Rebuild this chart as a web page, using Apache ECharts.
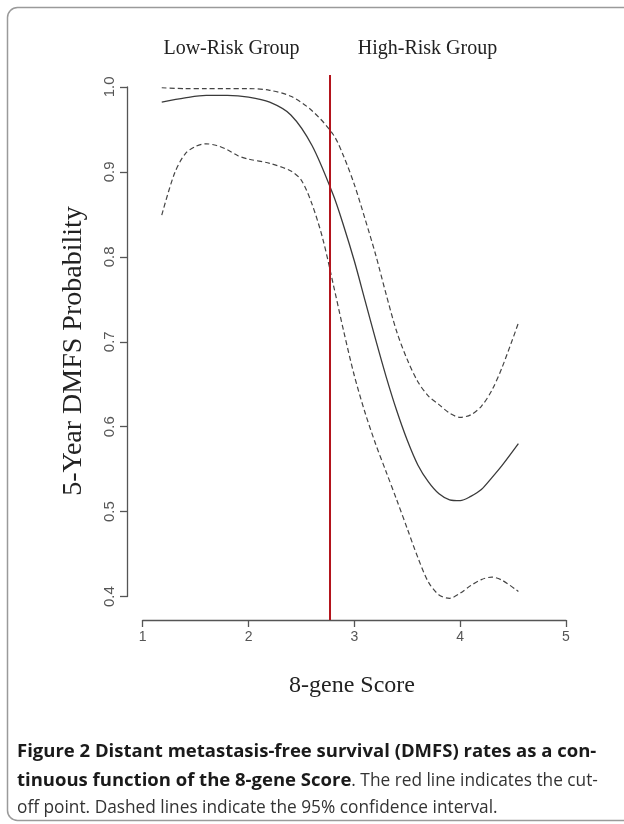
<!DOCTYPE html>
<html>
<head>
<meta charset="utf-8">
<script src="https://cdn.jsdelivr.net/npm/echarts@6/dist/echarts.min.js"></script>
<style>
html,body{margin:0;padding:0;background:#fff;}
#chart{width:624px;height:824px;}
</style>
</head>
<body>
<div id="chart"></div>
<script>
// ---- data ----
var xTicks = [1, 2, 3, 4, 5];
var yTicks = [0.4, 0.5, 0.6, 0.7, 0.8, 0.9, 1.0];

var scoreMid = [1.18, 1.40, 1.60, 1.80, 2.00, 2.20, 2.40, 2.60, 2.80, 2.90, 3.00, 3.10, 3.20, 3.30, 3.40, 3.50, 3.60, 3.70, 3.80, 3.90, 4.00, 4.10, 4.20, 4.30, 4.40, 4.55];
var dmfsMid  = [0.982, 0.987, 0.990, 0.990, 0.988, 0.982, 0.967, 0.931, 0.873, 0.836, 0.795, 0.749, 0.703, 0.659, 0.619, 0.584, 0.555, 0.535, 0.521, 0.514, 0.513, 0.518, 0.526, 0.540, 0.555, 0.580];

var scoreUpper = [1.18, 1.40, 1.60, 1.80, 2.00, 2.20, 2.40, 2.60, 2.80, 2.90, 3.00, 3.10, 3.20, 3.30, 3.40, 3.50, 3.60, 3.70, 3.80, 3.90, 4.00, 4.10, 4.20, 4.30, 4.40, 4.55];
var dmfsUpper  = [0.999, 0.998, 0.998, 0.998, 0.998, 0.996, 0.989, 0.972, 0.944, 0.918, 0.885, 0.845, 0.803, 0.756, 0.712, 0.679, 0.653, 0.636, 0.626, 0.616, 0.611, 0.614, 0.624, 0.643, 0.671, 0.722];

var scoreLower = [1.18, 1.30, 1.40, 1.50, 1.60, 1.70, 1.80, 1.90, 2.00, 2.20, 2.40, 2.50, 2.60, 2.70, 2.80, 2.90, 3.00, 3.10, 3.20, 3.30, 3.40, 3.50, 3.60, 3.70, 3.80, 3.90, 4.00, 4.10, 4.20, 4.30, 4.40, 4.55];
var dmfsLower  = [0.849, 0.898, 0.921, 0.930, 0.933, 0.931, 0.926, 0.919, 0.915, 0.910, 0.901, 0.890, 0.862, 0.822, 0.768, 0.712, 0.660, 0.617, 0.580, 0.547, 0.514, 0.480, 0.446, 0.417, 0.402, 0.398, 0.404, 0.413, 0.420, 0.423, 0.419, 0.406];

var cutoffScore = 2.77;
var cutoffSpan = [1.014, 0.3725];

var groupLabels = ['Low-Risk Group', 'High-Risk Group'];
var xTitle = '8-gene Score';
var yTitle = '5-Year DMFS Probability';

function zip(xs, ys) { return xs.map(function (x, i) { return [x, ys[i]]; }); }

var chart = echarts.init(document.getElementById('chart'), null, {renderer: 'canvas'});

var axisColor = '#555';
var option = {
  backgroundColor: '#fff',
  animation: false,
  grid: {left: 142.7, right: 58, top: 86.9, bottom: 227.4, containLabel: false},
  xAxis: {
    type: 'value', min: xTicks[0], max: xTicks[xTicks.length - 1], interval: 1,
    offset: 23.4,
    axisLine: {show: true, onZero: false, lineStyle: {color: axisColor, width: 1.3}},
    axisTick: {show: true, inside: false, length: 7, lineStyle: {color: axisColor, width: 1.3}},
    axisLabel: {color: '#555', fontSize: 14, fontFamily: 'Liberation Sans', margin: 10},
    splitLine: {show: false}
  },
  yAxis: {
    type: 'value', min: yTicks[0], max: yTicks[yTicks.length - 1], interval: 0.1,
    offset: 15.7,
    axisLine: {show: true, onZero: false, lineStyle: {color: axisColor, width: 1.3}},
    axisTick: {show: true, inside: false, length: 7, lineStyle: {color: axisColor, width: 1.3}},
    axisLabel: {color: '#555', fontSize: 15, fontFamily: 'Liberation Sans', margin: 10, rotate: 90,
      formatter: function (v) { return v.toFixed(1); }},
    splitLine: {show: false}
  },
  series: [
    {type: 'line', data: zip(scoreMid, dmfsMid), smooth: 0.3, showSymbol: false, clip: false,
     lineStyle: {color: '#3a3a3a', width: 1.3}},
    {type: 'line', data: zip(scoreUpper, dmfsUpper), smooth: 0.3, showSymbol: false, clip: false,
     lineStyle: {color: '#444', width: 1.2, type: [5, 3]}},
    {type: 'line', data: zip(scoreLower, dmfsLower), smooth: 0.3, showSymbol: false, clip: false,
     lineStyle: {color: '#444', width: 1.2, type: [5, 3]}},
    {type: 'line', data: [[cutoffScore, cutoffSpan[0]], [cutoffScore, cutoffSpan[1]]], showSymbol: false, clip: false,
     lineStyle: {color: '#b3141c', width: 2}, z: 5}
  ],
  graphic: [
    {type: 'rect', shape: {x: 7.5, y: 7.5, width: 640, height: 813, r: 10}, silent: true,
     style: {fill: 'none', stroke: '#9a9a9a', lineWidth: 1.5}},
    {type: 'text', x: 231.5, y: 49, style: {text: groupLabels[0], font: '20px "Liberation Serif"', fill: '#222', align: 'center', verticalAlign: 'middle'}},
    {type: 'text', x: 427.5, y: 49, style: {text: groupLabels[1], font: '20px "Liberation Serif"', fill: '#222', align: 'center', verticalAlign: 'middle'}},
    {type: 'text', x: 352, y: 686, style: {text: xTitle, font: '24px "Liberation Serif"', fill: '#222', align: 'center', verticalAlign: 'middle'}},
    {type: 'text', x: 74, y: 351, rotation: Math.PI / 2, style: {text: yTitle, font: '28px "Liberation Serif"', fill: '#222', align: 'center', verticalAlign: 'middle'}},
    {type: 'text', x: 17, y: 752, style: {text: 'Figure 2 Distant metastasis-free survival (DMFS) rates as a con-', font: 'bold 18.5px "Open Sans"', fill: '#1a1a1a', verticalAlign: 'middle'}},
    {type: 'text', x: 17, y: 781, style: {
      text: '{b|tinuous function of the 8-gene Score}{r|. The red line indicates the cut-}',
      verticalAlign: 'middle',
      rich: {b: {font: 'bold 18.5px "Open Sans"', fill: '#1a1a1a'}, r: {font: '17.3px "Open Sans"', fill: '#333'}}}},
    {type: 'text', x: 17, y: 808, style: {text: 'off point. Dashed lines indicate the 95% confidence interval.', font: '17.3px "Open Sans"', fill: '#333', verticalAlign: 'middle'}}
  ]
};
chart.setOption(option);
</script>
</body>
</html>
